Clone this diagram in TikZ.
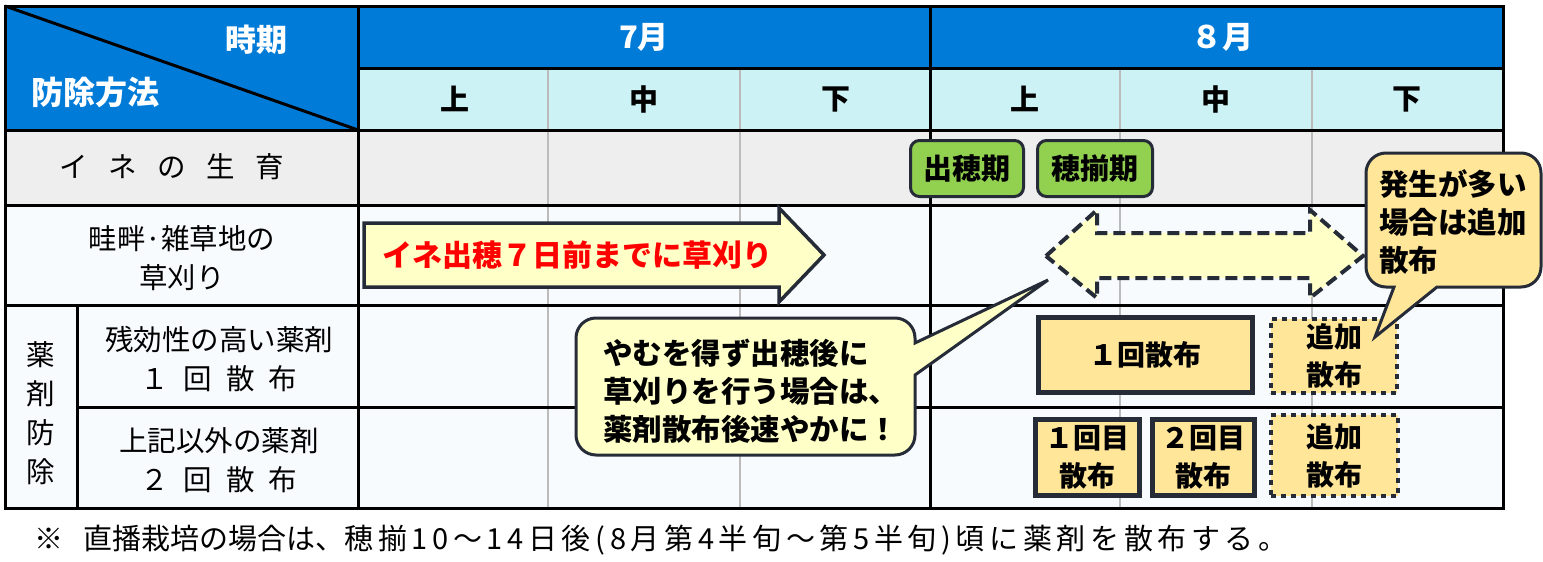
\documentclass[tikz,border=0pt]{standalone}
\usepackage{fontspec}
\setmainfont{Noto Sans CJK JP}
\newcommand{\kgap}{\hspace{0.5em}}
\newcommand{\wgap}{\hspace{0.72em}}
\definecolor{headblue}{HTML}{007CD8}
\definecolor{dekadcyan}{HTML}{CDF2F5}
\definecolor{growgray}{HTML}{EEEEEE}
\definecolor{bodywhite}{HTML}{F8FBFD}
\definecolor{edgedark}{HTML}{252C38}
\definecolor{stagegreen}{HTML}{92D050}
\definecolor{sprayfill}{HTML}{FFE699}
\definecolor{notefill}{HTML}{FFFFC8}
\definecolor{subgray}{HTML}{BBBBBB}
\tikzset{
  rule/.style={line width=3pt},
  subrule/.style={line width=2pt, draw=subgray},
  cell/.style={font=\fontsize{28.5}{39}\selectfont, align=center, inner sep=0pt},
  headtext/.style={font=\bfseries\fontsize{31}{34}\selectfont, text=white, inner sep=0pt},
  dekad/.style={font=\bfseries\fontsize{29}{34}\selectfont, inner sep=0pt},
  stage/.style={draw=edgedark, line width=3pt, fill=stagegreen, rounded corners=9pt,
    minimum height=56, font=\bfseries\fontsize{29}{34}\selectfont, inner sep=0pt},
  spray/.style={draw=edgedark, line width=5pt, fill=sprayfill,
    font=\bfseries\fontsize{28}{38}\selectfont, align=center, inner sep=0pt},
  extra/.style={spray, line width=4.5pt, dash pattern=on 5pt off 5pt},
  band/.style={draw=edgedark, line width=3.5pt, fill=notefill, line join=miter},
  note/.style={draw=edgedark, line width=3pt, fill=notefill},
  notetext/.style={font=\bfseries\fontsize{29.5}{38}\selectfont, align=left, inner sep=0pt, anchor=west},
}
\begin{document}
\begin{tikzpicture}[x=1pt, y=-1pt]
  \useasboundingbox (0,0) rectangle (1543,562);
  \fill[white] (0,0) rectangle (1543,562);

  % cell backgrounds
  \fill[headblue] (5,6) rectangle (1503,68);
  \fill[headblue] (5,68) rectangle (358,130);
  \fill[dekadcyan] (358,68) rectangle (1503,130);
  \fill[growgray] (5,130) rectangle (1503,205);
  \fill[bodywhite] (5,205) rectangle (1503,508);

  % dekad lines
  \draw[subrule] (548,68) -- (548,508);
  \draw[subrule] (740,68) -- (740,508);
  \draw[subrule] (1120,68) -- (1120,508);
  \draw[subrule] (1312,68) -- (1312,508);

  % table rules
  \draw[rule] (5,6) rectangle (1503,508);
  \draw[rule] (358,6) -- (358,508);
  \draw[rule] (930,6) -- (930,508);
  \draw[rule] (358,68) -- (1503,68);
  \draw[rule] (5,130) -- (1503,130);
  \draw[rule] (5,205) -- (1503,205);
  \draw[rule] (5,305) -- (1503,305);
  \draw[rule] (77,407) -- (1503,407);
  \draw[rule] (77,305) -- (77,508);
  \draw[rule] (5,6) -- (358,130);

  % header
  \node[headtext] (period) at (256,40) {時期};
  \node[headtext, font=\bfseries\fontsize{32}{34}\selectfont] (method) at (95,92) {防除方法};
  \node[headtext] (july) at (644,37) {7月};
  \node[headtext] (august) at (1222,37) {８月};
  \node[dekad] (jul1) at (455,99) {上};
  \node[dekad] (jul2) at (644,99) {中};
  \node[dekad] (jul3) at (836,99) {下};
  \node[dekad] (aug1) at (1025,99) {上};
  \node[dekad] (aug2) at (1216,99) {中};
  \node[dekad] (aug3) at (1407,99) {下};

  % row labels
  \node[cell] (growth) at (172,167) {イ\wgap ネ\wgap の\wgap 生\wgap 育};
  \node[cell] (mowing) at (182,258) {畦畔·雑草地の\\草刈り};
  \node[cell] (chem) at (41,413) {薬\\剤\\防\\除};
  \node[cell] (once) at (219,359) {残効性の高い薬剤\\１\kgap 回\kgap 散\kgap 布};
  \node[cell] (twice) at (219,460) {上記以外の薬剤\\２\kgap 回\kgap 散\kgap 布};

  % mowing arrows
  \draw[band] (364,223) -- (779,223) -- (779,208) -- (824,255) -- (779,302) -- (779,287) -- (364,287) -- cycle;
  \node[font=\bfseries\fontsize{30}{34}\selectfont, text=red, inner sep=0pt] (mowlimit) at (577,255) {イネ出穂７日前までに草刈り};
  \draw[band, line width=4pt, dash pattern=on 12pt off 6pt] (1046,256) -- (1097,210) -- (1097,233) -- (1310,233) -- (1310,210)
    -- (1363,256) -- (1310,298) -- (1310,278) -- (1097,278) -- (1097,298) -- cycle;

  % growth stages
  \node[stage, minimum width=113] (heading) at (967,168.5) {出穂期};
  \node[stage, minimum width=115] (fullhead) at (1095,168.5) {穂揃期};

  % spraying
  \node[spray, minimum width=214, minimum height=75] (spray1) at (1145.5,355) {１回散布};
  \node[extra, minimum width=126, minimum height=74] (extra1) at (1334,356) {追加\\散布};
  \node[spray, minimum width=104, minimum height=76] (sprayA) at (1087,457.5) {１回目\\散布};
  \node[spray, minimum width=102, minimum height=76] (sprayB) at (1203.5,457.5) {２回目\\散布};
  \node[extra, minimum width=127, minimum height=81] (extra2) at (1334.5,455.5) {追加\\散布};

  % callouts
  \draw[note] (576,386) [rounded corners=20pt] -- (576,318) -- (915,318) [sharp corners] -- (915,343)
    -- (1048,280) -- (915,375) [rounded corners=20pt] -- (915,455) -- (576,455) -- cycle;
  \node[notetext] (aftermow) at (603,391) {やむを得ず出穂後に\\草刈りを行う場合は、\\薬剤散布後速やかに！};
  \draw[note, fill=sprayfill] (1366,220) [rounded corners=20pt] -- (1366,153) -- (1541,153) -- (1541,287)
    [sharp corners] -- (1437,287) -- (1375,337) -- (1394,287) [rounded corners=20pt] -- (1366,287) -- cycle;
  \node[notetext] (addnote) at (1379,222) {発生が多い\\場合は追加\\散布};

  % footnote
  \node[font=\fontsize{29}{34}\selectfont, inner sep=0pt, anchor=west] (remark) at (34,540)
    {※\hspace{0.7em}直播栽培の場合は、{\addfontfeatures{LetterSpace=16}穂揃10～14日後(8月第4半旬～第5半旬)頃に薬剤を散布する。}};
\end{tikzpicture}
\end{document}
